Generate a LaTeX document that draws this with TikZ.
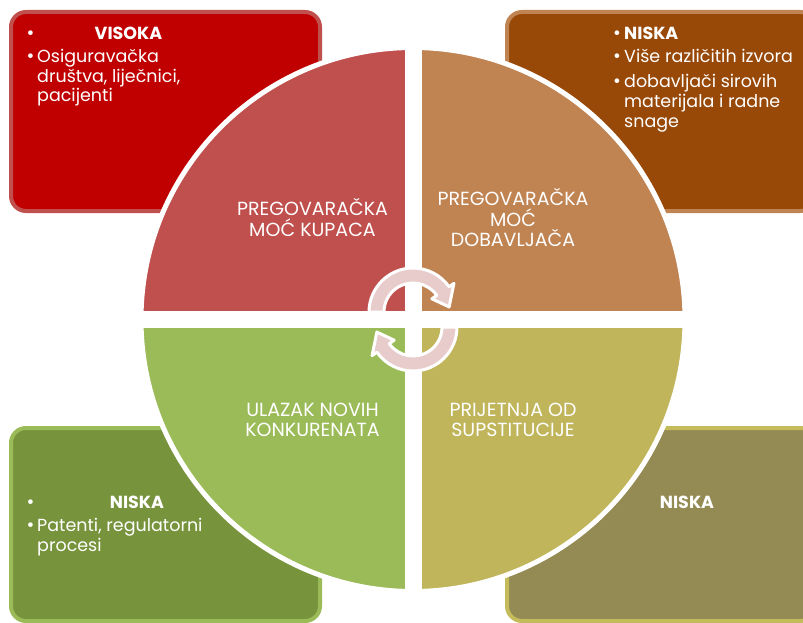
\documentclass[tikz,border=0pt]{standalone}
\usepackage{fontspec}
\setmainfont{Poppins}
\definecolor{boxred}{RGB}{192,0,0}
\definecolor{boxredb}{RGB}{192,80,77}
\definecolor{boxbrown}{RGB}{152,72,7}
\definecolor{boxbrownb}{RGB}{192,131,82}
\definecolor{boxgreen}{RGB}{119,147,60}
\definecolor{boxgreenb}{RGB}{155,187,89}
\definecolor{boxolive}{RGB}{148,138,84}
\definecolor{boxoliveb}{RGB}{196,187,90}
\definecolor{qred}{RGB}{192,80,77}
\definecolor{qorange}{RGB}{192,131,82}
\definecolor{qgreen}{RGB}{155,187,89}
\definecolor{qolive}{RGB}{192,181,91}
\definecolor{arrowpink}{RGB}{232,204,204}
\tikzset{
  sidebox/.style={rounded corners=15pt, line width=4pt},
  quadtext/.style={text=white, font=\fontsize{19}{22}\selectfont, anchor=base, inner sep=0pt},
  boxtext/.style={text=white, font=\fontsize{17.5}{20}\selectfont, anchor=base west, inner sep=0pt},
  boxhead/.style={text=white, font=\fontsize{17.5}{20}\selectfont\bfseries, inner sep=0pt},
  bulletmark/.style={text=white, font=\fontsize{19}{20}\selectfont, anchor=base, inner sep=0pt},
  cyclearrow/.style={fill=arrowpink, draw=white, line width=3pt, line join=round}
}
\begin{document}
\begin{tikzpicture}[x=1pt,y=1pt]
\useasboundingbox (0,0) rectangle (803,-623);
% side boxes
\draw[sidebox, draw=boxredb, fill=boxred] (11,-12) rectangle (320,-211);
\draw[sidebox, draw=boxbrownb, fill=boxbrown] (507,-12) rectangle (815,-211);
\draw[sidebox, draw=boxgreenb, fill=boxgreen] (11,-428) rectangle (320,-621);
\draw[sidebox, draw=boxoliveb, fill=boxolive] (507,-428) rectangle (815,-621);
% box texts: top left
\node[bulletmark] (tlb1) at (30.5,-40) {•};
\node[boxhead, anchor=base] (tlh) at (128.5,-40) {VISOKA};
\node[bulletmark] (tlb2) at (30.5,-62.5) {•};
\node[boxtext] (tl1) at (37,-62.5) {Osiguravačka};
\node[boxtext] (tl2) at (37,-82.5) {društva, liječnici,};
\node[boxtext] (tl3) at (37,-102) {pacijenti};
% top right
\node[bulletmark] (trb1) at (617,-40) {•};
\node[boxhead, anchor=base west] (trh) at (624,-40) {NISKA};
\node[bulletmark] (trb2) at (617,-63) {•};
\node[boxtext] (tr1) at (624,-63) {Više različitih izvora};
\node[bulletmark] (trb3) at (617,-87.5) {•};
\node[boxtext] (tr2) at (624,-87.5) {dobavljači sirovih};
\node[boxtext] (tr3) at (624,-108) {materijala i radne};
\node[boxtext] (tr4) at (624,-128) {snage};
% bottom left
\node[bulletmark] (blb1) at (30.5,-508) {•};
\node[boxhead, anchor=base] (blh) at (137,-508) {NISKA};
\node[bulletmark] (blb2) at (30.5,-531) {•};
\node[boxtext] (bl1) at (37,-531) {Patenti, regulatorni};
\node[boxtext] (bl2) at (37,-551) {procesi};
% bottom right
\node[boxhead, anchor=base] (brh) at (687,-508) {NISKA};
% circle quadrants
\begin{scope}[shift={(413,-319.5)}]
  \begin{scope}
    \clip (0,0) circle[radius=270];
    \fill[qred] (0,0) rectangle (-280,280);
    \fill[qorange] (0,0) rectangle (280,280);
    \fill[qgreen] (0,0) rectangle (-280,-280);
    \fill[qolive] (0,0) rectangle (280,-280);
    \fill[white] (-8.5,-280) rectangle (8.5,280);
    \fill[white] (-280,-8.5) rectangle (280,8.5);
  \end{scope}
  \draw[white, line width=5pt] (0,0) circle[radius=272];
\end{scope}
% quadrant texts
\node[quadtext] (q1a) at (312.5,-215) {PREGOVARAČKA};
\node[quadtext] (q1b) at (312.5,-236) {MOĆ KUPACA};
\node[quadtext] (q2a) at (513,-205) {PREGOVARAČKA};
\node[quadtext] (q2b) at (513,-226) {MOĆ};
\node[quadtext] (q2c) at (513,-246.5) {DOBAVLJAČA};
\node[quadtext] (q3a) at (312.5,-416) {ULAZAK NOVIH};
\node[quadtext] (q3b) at (312.5,-436.5) {KONKURENATA};
\node[quadtext] (q4a) at (513,-416) {PRIJETNJA OD};
\node[quadtext] (q4b) at (513,-436.5) {SUPSTITUCIJE};
% cycle arrows
\begin{scope}[shift={(413,-312)}]
  \draw[cyclearrow] (180:44) arc[start angle=180, end angle=35, radius=44]
     -- (35:50) -- (8:36.5) -- (35:23) -- (35:29)
     arc[start angle=35, end angle=180, radius=29] -- cycle;
\end{scope}
\begin{scope}[shift={(413,-327)}]
  \draw[cyclearrow] (0:44) arc[start angle=0, end angle=-145, radius=44]
     -- (-145:50) -- (-172:36.5) -- (-145:23) -- (-145:29)
     arc[start angle=-145, end angle=0, radius=29] -- cycle;
\end{scope}
\end{tikzpicture}
\end{document}
